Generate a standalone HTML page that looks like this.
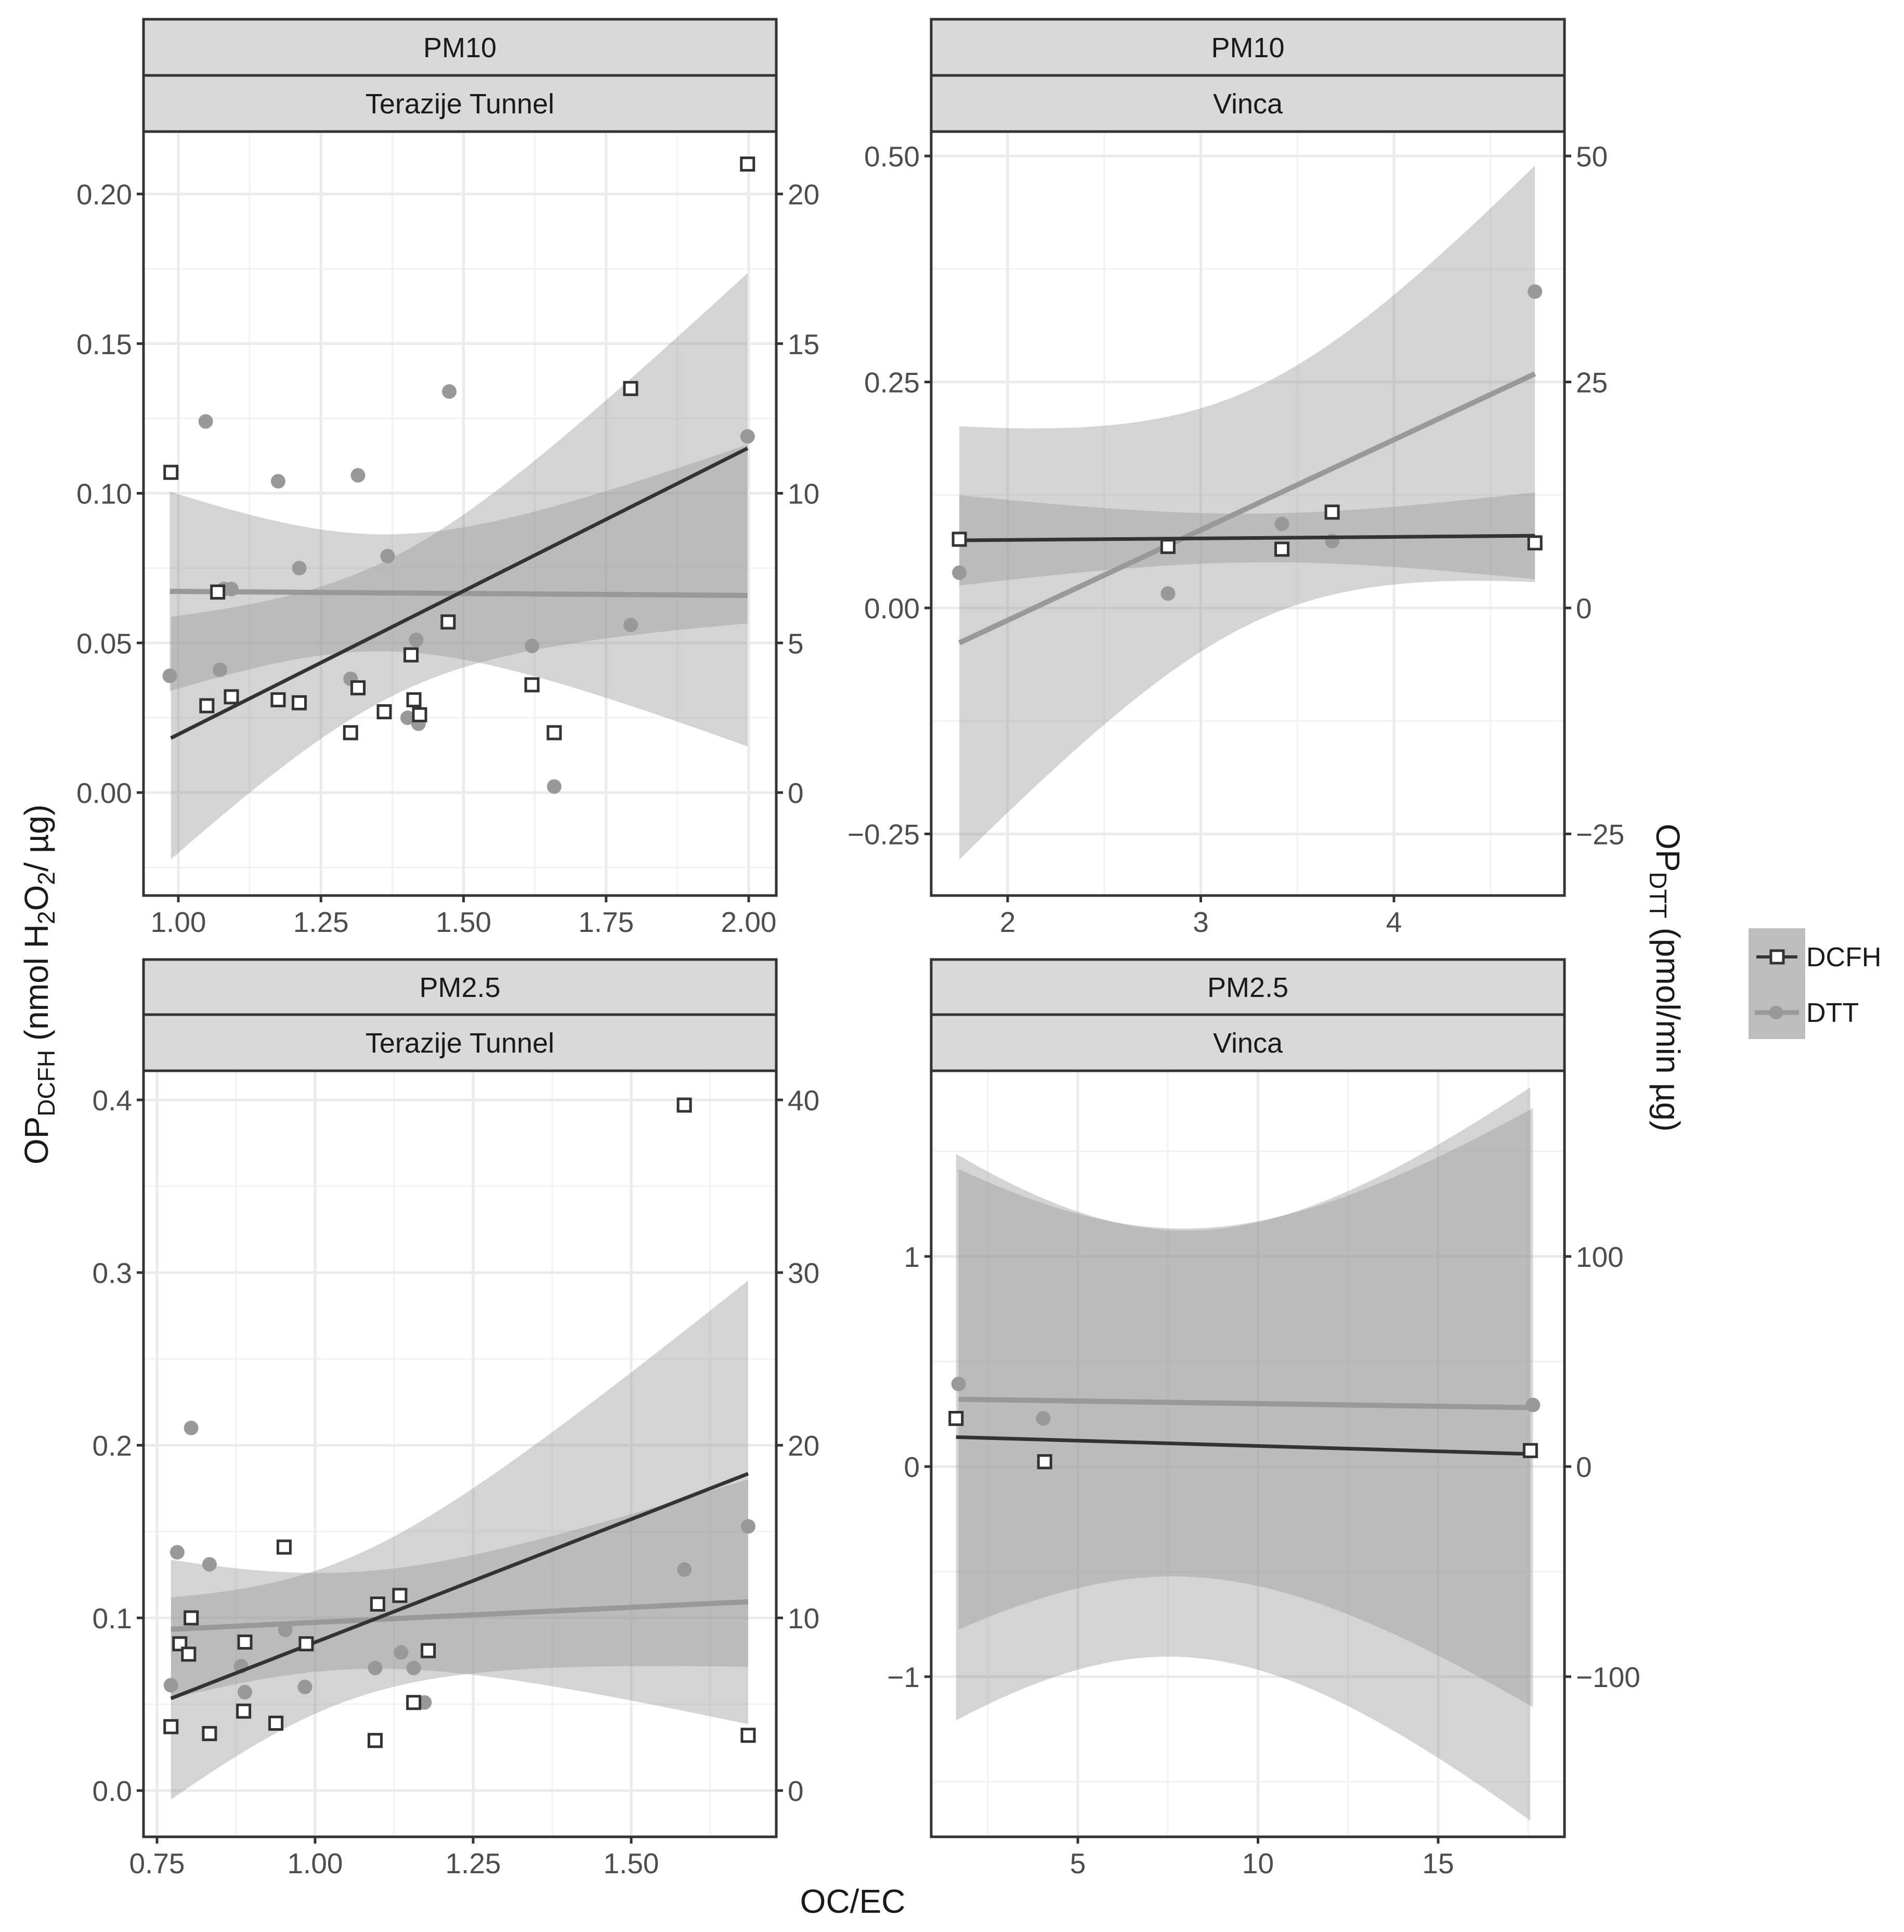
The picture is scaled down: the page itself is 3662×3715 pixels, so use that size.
<!DOCTYPE html>
<html><head><meta charset="utf-8"><style>
html,body{margin:0;padding:0;background:#fff;}
svg{display:block;font-family:"Liberation Sans",sans-serif;}
</style></head><body>
<svg id="chart" xmlns="http://www.w3.org/2000/svg" width="3662" height="3715" viewBox="0 0 3662 3715">
<rect width="3662" height="3715" fill="#fff"/>
<g id="panels"></g>
<text transform="translate(92,1893) rotate(-90)" text-anchor="middle" font-size="64" fill="#1a1a1a">OP<tspan font-size="46" dy="13">DCFH</tspan><tspan dy="-13"> (nmol H</tspan><tspan font-size="46" dy="13">2</tspan><tspan dy="-13">O</tspan><tspan font-size="46" dy="13">2</tspan><tspan dy="-13">/ µg)</tspan></text>
<text transform="translate(3186,1880) rotate(90)" text-anchor="middle" font-size="64" fill="#1a1a1a">OP<tspan font-size="46" dy="13">DTT</tspan><tspan dy="-13"> (pmol/min µg)</tspan></text>
<text x="1640" y="3678" text-anchor="middle" font-size="64" fill="#1a1a1a">OC/EC</text>
<g>
<rect x="3363" y="1785" width="109" height="213" fill="#bdbdbd"/>
<line x1="3378" y1="1840" x2="3457" y2="1840" stroke="#333" stroke-width="6"/>
<rect x="3406" y="1828" width="24" height="24" fill="#fff" stroke="#333" stroke-width="5"/>
<text x="3474" y="1858" font-size="52" fill="#1a1a1a">DCFH</text>
<line x1="3375" y1="1947" x2="3460" y2="1947" stroke="#999" stroke-width="9"/>
<circle cx="3416" cy="1947" r="13" fill="#999"/>
<text x="3474" y="1965" font-size="52" fill="#1a1a1a">DTT</text>
</g>
</svg>
<script>
// ---- data (x = OC/EC, DCFH in nmol H2O2/µg, DTT in pmol/min µg) ----
const tlDcfhX=[0.987,1.069,1.050,1.093,1.175,1.212,1.302,1.315,1.361,1.408,1.413,1.423,1.473,1.620,1.659,1.793,1.998];
const tlDcfhY=[0.107,0.067,0.029,0.032,0.031,0.030,0.020,0.035,0.027,0.046,0.031,0.026,0.057,0.036,0.020,0.135,0.210];
const tlDttX=[0.985,1.048,1.073,1.080,1.093,1.175,1.212,1.302,1.315,1.367,1.402,1.417,1.421,1.475,1.620,1.659,1.793,1.998];
const tlDttY=[3.9,12.4,4.1,6.8,6.8,10.4,7.5,3.8,10.6,7.9,2.5,5.1,2.3,13.4,4.9,0.2,5.6,11.9];
const trDcfhX=[1.75,2.83,3.42,3.68,4.73];
const trDcfhY=[0.076,0.068,0.065,0.106,0.072];
const trDttX=[1.75,2.83,3.42,3.68,4.73];
const trDttY=[3.9,1.6,9.3,7.4,35.0];
const blDcfhX=[0.772,0.786,0.800,0.804,0.833,0.887,0.889,0.938,0.951,0.986,1.095,1.099,1.134,1.156,1.179,1.584,1.685];
const blDcfhY=[0.037,0.085,0.079,0.100,0.033,0.046,0.086,0.039,0.141,0.085,0.029,0.108,0.113,0.051,0.081,0.397,0.032];
const blDttX=[0.772,0.782,0.804,0.833,0.883,0.889,0.953,0.984,1.095,1.136,1.156,1.173,1.584,1.685];
const blDttY=[6.1,13.8,21.0,13.1,7.2,5.7,9.3,6.0,7.1,8.0,7.1,5.1,12.8,15.3];
const brDcfhX=[1.62,4.08,17.56];
const brDcfhY=[0.229,0.023,0.076];
const brDttX=[1.69,4.04,17.63];
const brDttY=[39.3,22.9,29.3];
const tlXTicks=["1.00","1.25","1.50","1.75","2.00"];
const tlYTicks=["0.00","0.05","0.10","0.15","0.20"];
const tlY2Ticks=["0","5","10","15","20"];
const trXTicks=["2","3","4"];
const trYTicks=["-0.25","0.00","0.25","0.50"];
const trY2Ticks=["-25","0","25","50"];
const blXTicks=["0.75","1.00","1.25","1.50"];
const blYTicks=["0.0","0.1","0.2","0.3","0.4"];
const blY2Ticks=["0","10","20","30","40"];
const brXTicks=["5","10","15"];
const brYTicks=["-1","0","1"];
const brY2Ticks=["-100","0","100"];
const stripTop=["PM10","PM10","PM2.5","PM2.5"];
const stripBottom=["Terazije Tunnel","Vinca","Terazije Tunnel","Vinca"];

const NS="http://www.w3.org/2000/svg";
function mk(tag,attrs,parent){const e=document.createElementNS(NS,tag);for(const k in attrs)e.setAttribute(k,attrs[k]);if(parent)parent.appendChild(e);return e;}
function tq(df){const t=[0,12.706,4.303,3.182,2.776,2.571,2.447,2.365,2.306,2.262,2.228,2.201,2.179,2.160,2.145,2.131,2.120,2.110,2.101,2.093,2.086];return df<=20?t[df]:2.06;}
function lm(xs,ys){const n=xs.length;const mx=xs.reduce((a,b)=>a+b,0)/n,my=ys.reduce((a,b)=>a+b,0)/n;let sxx=0,sxy=0;for(let i=0;i<n;i++){sxx+=(xs[i]-mx)**2;sxy+=(xs[i]-mx)*(ys[i]-my);}const b=sxy/sxx,a=my-b*mx;let rss=0;for(let i=0;i<n;i++)rss+=(ys[i]-a-b*xs[i])**2;const s=Math.sqrt(rss/(n-2));return {a,b,mx,sxx,s,n,t:tq(n-2)};}

const panels=[
 {name:"pm10-terazije",L:276,R:1493,T:253,B:1722,sTop:37,sMid:145,xa:[1,343,2,1440],ya:[0,1524,0.2,373],xt:[1,1.25,1.5,1.75,2],xl:tlXTicks,yt:[0,0.05,0.1,0.15,0.2],yl:tlYTicks,y2l:tlY2Ticks,xm:[1.125,1.375,1.625,1.875],ym:[-0.025,0.025,0.075,0.125,0.175],dx:tlDcfhX,dy:tlDcfhY,tx:tlDttX,ty:tlDttY},
 {name:"pm10-vinca",L:1791,R:3009,T:253,B:1722,sTop:37,sMid:145,xa:[2,1938,4,2681],ya:[0,1169,0.5,300],xt:[2,3,4],xl:trXTicks,yt:[-0.25,0,0.25,0.5],yl:trYTicks,y2l:trY2Ticks,xm:[1.5,2.5,3.5,4.5],ym:[-0.125,0.125,0.375],dx:trDcfhX,dy:trDcfhY,tx:trDttX,ty:trDttY},
 {name:"pm25-terazije",L:276,R:1493,T:2059,B:3532,sTop:1845,sMid:1951,xa:[1,606,1.5,1214],ya:[0,3443,0.4,2115],xt:[0.75,1,1.25,1.5],xl:blXTicks,yt:[0,0.1,0.2,0.3,0.4],yl:blYTicks,y2l:blY2Ticks,xm:[0.875,1.125,1.375,1.625],ym:[-0.05,0.05,0.15,0.25,0.35],dx:blDcfhX,dy:blDcfhY,tx:blDttX,ty:blDttY},
 {name:"pm25-vinca",L:1791,R:3009,T:2059,B:3532,sTop:1845,sMid:1951,xa:[5,2073,15,2766],ya:[0,2820,1,2416],xt:[5,10,15],xl:brXTicks,yt:[-1,0,1],yl:brYTicks,y2l:brY2Ticks,xm:[2.5,7.5,12.5,17.5],ym:[-1.5,-0.5,0.5,1.5],dx:brDcfhX,dy:brDcfhY,tx:brDttX,ty:brDttY}
];
const root=document.getElementById('panels');
panels.forEach((p,pi)=>{
 const X=v=>p.xa[1]+(v-p.xa[0])*(p.xa[3]-p.xa[1])/(p.xa[2]-p.xa[0]);
 const Y=v=>p.ya[1]+(v-p.ya[0])*(p.ya[3]-p.ya[1])/(p.ya[2]-p.ya[0]);
 const g=mk('g',{},root);
 
 
 const cp=mk('clipPath',{id:'clip'+pi},g);
 mk('rect',{x:p.L,y:p.T,width:p.R-p.L,height:p.B-p.T},cp);
 const grid=mk('g',{'clip-path':'url(#clip'+pi+')'},g);
 
 
 p.xm.forEach(v=>mk('line',{x1:X(v),x2:X(v),y1:p.T,y2:p.B,stroke:'#f2f2f2','stroke-width':3},grid));
 p.ym.forEach(v=>mk('line',{y1:Y(v),y2:Y(v),x1:p.L,x2:p.R,stroke:'#f2f2f2','stroke-width':3},grid));
 p.xt.forEach(v=>mk('line',{x1:X(v),x2:X(v),y1:p.T,y2:p.B,stroke:'#ebebeb','stroke-width':5},grid));
 p.yt.forEach(v=>mk('line',{y1:Y(v),y2:Y(v),x1:p.L,x2:p.R,stroke:'#ebebeb','stroke-width':5},grid));
 const plot=mk('g',{'clip-path':'url(#clip'+pi+')'},g);
 const fits=[{xs:p.dx,ys:p.dy,sc:1,col:'#333',w:7,nm:'dcfh'},{xs:p.tx,ys:p.ty,sc:0.01,col:'#999',w:10,nm:'dtt'}];
 const lines=[];
 fits.forEach(f=>{
  const m=lm(f.xs,f.ys);const x0=Math.min(...f.xs),x1=Math.max(...f.xs);
  const up=[],lo=[];
  for(let i=0;i<=80;i++){const x=x0+(x1-x0)*i/80;const fit=m.a+m.b*x;const se=m.s*Math.sqrt(1/m.n+(x-m.mx)**2/m.sxx)*m.t;up.push(X(x).toFixed(1)+','+Y((fit+se)*f.sc).toFixed(1));lo.unshift(X(x).toFixed(1)+','+Y((fit-se)*f.sc).toFixed(1));}
  const band=mk('polygon',{points:up.concat(lo).join(' '),fill:'#999','fill-opacity':0.42},plot);
  
  
  lines.push({x1:X(x0),y1:Y((m.a+m.b*x0)*f.sc),x2:X(x1),y2:Y((m.a+m.b*x1)*f.sc),col:f.col,w:f.w,nm:f.nm});
 });
 p.tx.forEach((x,i)=>{const c=mk('circle',{cx:X(x),cy:Y(p.ty[i]*0.01),r:14,fill:'#999'},plot);
  
  });
 lines.slice().reverse().forEach(l=>{const e=mk('line',{x1:l.x1,y1:l.y1,x2:l.x2,y2:l.y2,stroke:l.col,'stroke-width':l.w},plot);
  
  });
 p.dx.forEach((x,i)=>{const r=mk('rect',{x:X(x)-12,y:Y(p.dy[i])-12,width:24,height:24,fill:'#fff',stroke:'#333','stroke-width':5},plot);
  
  });
 mk('rect',{x:p.L,y:p.T,width:p.R-p.L,height:p.B-p.T,fill:'none',stroke:'#333','stroke-width':5},g);
 [[p.sTop,p.sMid,stripTop[pi]],[p.sMid,p.T,stripBottom[pi]]].forEach((s,si)=>{
  const r=mk('rect',{x:p.L,y:s[0],width:p.R-p.L,height:s[1]-s[0],fill:'#d9d9d9',stroke:'#333','stroke-width':5},g);
  
  
  const t=mk('text',{x:(p.L+p.R)/2,y:(s[0]+s[1])/2+19,'text-anchor':'middle','font-size':54,fill:'#1a1a1a'},g);
  t.textContent=s[2];
  
  
 });
 p.xt.forEach((v,i)=>{mk('line',{x1:X(v),x2:X(v),y1:p.B,y2:p.B+13,stroke:'#333','stroke-width':5},g);
  const t=mk('text',{x:X(v),y:p.B+70,'text-anchor':'middle','font-size':55,fill:'#4d4d4d'},g);t.textContent=p.xl[i].replace('-','\u2212');
  
  });
 p.yt.forEach((v,i)=>{mk('line',{x1:p.L-13,x2:p.L,y1:Y(v),y2:Y(v),stroke:'#333','stroke-width':5},g);
  mk('line',{x1:p.R,x2:p.R+13,y1:Y(v),y2:Y(v),stroke:'#333','stroke-width':5},g);
  const t=mk('text',{x:p.L-22,y:Y(v)+20,'text-anchor':'end','font-size':55,fill:'#4d4d4d'},g);t.textContent=p.yl[i].replace('-','\u2212');
  
  
  const t2=mk('text',{x:p.R+22,y:Y(v)+20,'text-anchor':'start','font-size':55,fill:'#4d4d4d'},g);t2.textContent=p.y2l[i].replace('-','\u2212');
  
  });
});
</script>
</body></html>
